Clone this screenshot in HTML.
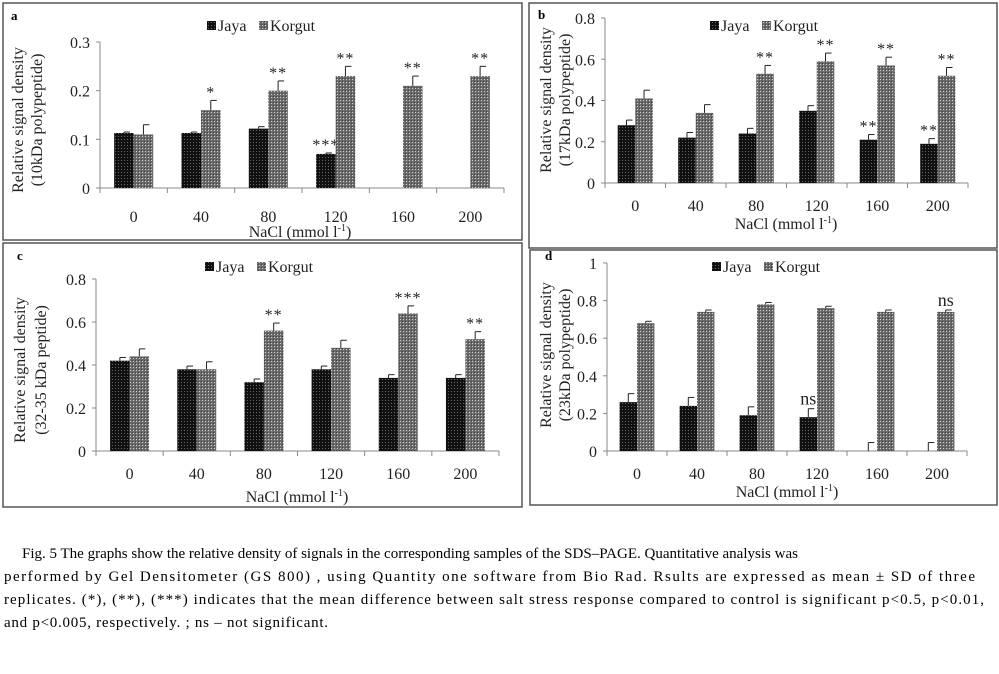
<!DOCTYPE html>
<html><head><meta charset="utf-8"><style>
html,body{margin:0;padding:0;background:#fff;}
svg{display:block;font-family:"Liberation Serif",serif;}
</style></head><body>
<svg id="fig" width="999" height="674" viewBox="0 0 999 674">
<defs>
<pattern id="pj" width="3" height="3" patternUnits="userSpaceOnUse"><rect width="3" height="3" fill="#111"/><rect x="1" y="1" width="1" height="1" fill="#666"/></pattern>
<pattern id="pk" width="3" height="3" patternUnits="userSpaceOnUse"><rect width="3" height="3" fill="#6a6a6a"/><rect x="1" y="1" width="1" height="1" fill="#d0d0d0"/><rect x="0" y="0" width="1" height="1" fill="#444"/></pattern>
</defs>
<text x="22" y="558" font-size="15" textLength="776" lengthAdjust="spacing">Fig. 5 The graphs show the relative  density of signals in the corresponding samples of the SDS–PAGE. Quantitative analysis was</text>
<text x="4" y="581" font-size="15" textLength="971" lengthAdjust="spacing">performed by Gel  Densitometer  (GS  800) , using Quantity one software from Bio Rad. Rsults are expressed as mean ± SD of three</text>
<text x="4" y="604" font-size="15" textLength="980" lengthAdjust="spacing">replicates. (*), (**), (***)  indicates that the mean difference between salt stress response compared to control is significant  p&lt;0.5, p&lt;0.01,</text>
<text x="4" y="627" font-size="15" textLength="324" lengthAdjust="spacing">and p&lt;0.005,  respectively.  ; ns – not significant.</text>
</svg>
<script>
const categories = ["0","40","80","120","160","200"];
const aJaya = [0.113,0.113,0.122,0.07,0,0];
const aJayaErr = [0.002,0.002,0.004,0.002,0,0];
const aKorgut = [0.11,0.16,0.2,0.23,0.21,0.23];
const aKorgutErr = [0.02,0.02,0.02,0.02,0.02,0.02];
const aJayaSig = ["","","","***","",""];
const aKorgutSig = ["","*","**","**","**","**"];
const aTicks = [0,0.1,0.2,0.3];
const bJaya = [0.28,0.22,0.24,0.35,0.21,0.19];
const bJayaErr = [0.025,0.025,0.025,0.025,0.025,0.025];
const bKorgut = [0.41,0.34,0.53,0.59,0.57,0.52];
const bKorgutErr = [0.04,0.04,0.04,0.04,0.04,0.04];
const bJayaSig = ["","","","","**","**"];
const bKorgutSig = ["","","**","**","**","**"];
const bTicks = [0,0.2,0.4,0.6,0.8];
const cJaya = [0.42,0.38,0.32,0.38,0.34,0.34];
const cJayaErr = [0.015,0.015,0.015,0.015,0.015,0.015];
const cKorgut = [0.44,0.38,0.56,0.48,0.64,0.52];
const cKorgutErr = [0.035,0.035,0.035,0.035,0.035,0.035];
const cJayaSig = ["","","","","",""];
const cKorgutSig = ["","","**","","***","**"];
const cTicks = [0,0.2,0.4,0.6,0.8];
const dJaya = [0.26,0.24,0.19,0.18,0,0];
const dJayaErr = [0.045,0.045,0.045,0.045,0.045,0.045];
const dKorgut = [0.68,0.74,0.78,0.76,0.74,0.74];
const dKorgutErr = [0.01,0.01,0.01,0.01,0.01,0.01];
const dJayaSig = ["","","","ns","",""];
const dKorgutSig = ["","","","","","ns"];
const dTicks = [0,0.2,0.4,0.6,0.8,1];

const svg = document.getElementById('fig');
const NS = 'http://www.w3.org/2000/svg';
function mk(tag, attrs, parent){const e=document.createElementNS(NS,tag);for(const k in attrs)e.setAttribute(k,attrs[k]);(parent||svg).appendChild(e);return e;}

const panels = [
 {id:'a',box:[3,3,519,237],x0:100,x1:504,y0:188,yT:42,max:0.3,ticks:aTicks,dec:1,j:aJaya,je:aJayaErr,k:aKorgut,ke:aKorgutErr,js:aJayaSig,ks:aKorgutSig,
  tickY:222,titleY:237,titleX:300,leg:[207,26],letter:[11,20],yt:[17,36,120],t2:'(10kDa polypeptide)'},
 {id:'b',box:[529,3,468,245],x0:605,x1:968,y0:183,yT:18,max:0.8,ticks:bTicks,dec:1,j:bJaya,je:bJayaErr,k:bKorgut,ke:bKorgutErr,js:bJayaSig,ks:bKorgutSig,
  tickY:211,titleY:229,titleX:786,leg:[710,26],letter:[538,19],yt:[545,564,100],t2:'(17kDa polypeptide)'},
 {id:'c',box:[3,243,519,264],x0:96,x1:499,y0:451,yT:279,max:0.8,ticks:cTicks,dec:1,j:cJaya,je:cJayaErr,k:cKorgut,ke:cKorgutErr,js:cJayaSig,ks:cKorgutSig,
  tickY:479,titleY:502,titleX:297,leg:[205,267],letter:[17,260],yt:[19,40,370],t2:'(32-35 kDa peptide)'},
 {id:'d',box:[530,250,467,255],x0:607,x1:967,y0:451,yT:263,max:1,ticks:dTicks,dec:-1,j:dJaya,je:dJayaErr,k:dKorgut,ke:dKorgutErr,js:dJayaSig,ks:dKorgutSig,
  tickY:479,titleY:497,titleX:787,leg:[712,267],letter:[545,260],yt:[545,564,355],t2:'(23kDa polypeptide)'}
];

function fmt(v,dec){ if(v===0) return '0'; if(dec<0) return (Math.round(v*10)/10===1)?'1':v.toFixed(1); return v.toFixed(1);}

panels.forEach(p=>{
 const g = mk('g',{});
 
 
 const box = mk('rect',{x:p.box[0],y:p.box[1],width:p.box[2],height:p.box[3],fill:'none',stroke:'#555','stroke-width':1.5},g);
 
 
 const lt = mk('text',{x:p.letter[0],y:p.letter[1],'font-size':13,'font-weight':'bold'},g);
 lt.textContent=p.id;
 
 
 const ys = v => p.y0 - (v/p.max)*(p.y0-p.yT);
 const n = categories.length, cw=(p.x1-p.x0)/n;
 const xc = i => p.x0 + cw*(i+0.5);
 const bw = cw*0.29;
 const ya = mk('line',{x1:p.x0,y1:p.yT,x2:p.x0,y2:p.y0,stroke:'#888'},g);
 
 
 const xa = mk('line',{x1:p.x0,y1:p.y0,x2:p.x1,y2:p.y0,stroke:'#888'},g);
 
 
 p.ticks.forEach(t=>{
  mk('line',{x1:p.x0-4,y1:ys(t),x2:p.x0,y2:ys(t),stroke:'#888'},g);
  const tl = mk('text',{x:p.x0-10,y:ys(t)+6,'font-size':16,'text-anchor':'end',fill:'#222'},g);
  tl.textContent=fmt(t,p.dec);
  
  
 });
 for(let i=0;i<=n;i++) mk('line',{x1:p.x0+cw*i,y1:p.y0,x2:p.x0+cw*i,y2:p.y0+5,stroke:'#888'},g);
 categories.forEach((c,i)=>{
  const tl = mk('text',{x:xc(i),y:p.tickY,'font-size':16,'text-anchor':'middle',fill:'#222'},g);
  tl.textContent=c;
  
  
 });
 const xt = mk('text',{x:p.titleX,y:p.titleY,'font-size':16,'text-anchor':'middle',fill:'#222'},g);
 xt.innerHTML='NaCl (mmol l<tspan dy="-6" font-size="10">-1</tspan><tspan dy="6">)</tspan>';
 
 
 const y1 = mk('text',{'font-size':16,'text-anchor':'middle',fill:'#222',transform:`translate(${p.yt[0]+6},${p.yt[2]}) rotate(-90)`},g);
 y1.textContent='Relative signal density';
 
 
 const y2 = mk('text',{'font-size':16,'text-anchor':'middle',fill:'#222',transform:`translate(${p.yt[1]+6},${p.yt[2]}) rotate(-90)`},g);
 y2.textContent=p.t2;
 
 
 const l1 = mk('rect',{x:p.leg[0],y:p.leg[1]-5,width:9,height:9,fill:'url(#pj)'},g);
 
 
 const l1t = mk('text',{x:p.leg[0]+11,y:p.leg[1]+5,'font-size':16,fill:'#222'},g);
 l1t.textContent='Jaya';
 
 
 const l2 = mk('rect',{x:p.leg[0]+52,y:p.leg[1]-5,width:9,height:9,fill:'url(#pk)'},g);
 
 
 const l2t = mk('text',{x:p.leg[0]+63,y:p.leg[1]+5,'font-size':16,fill:'#222'},g);
 l2t.textContent='Korgut';
 
 
 [[p.j,p.je,p.js,'url(#pj)',-1,'jaya'],[p.k,p.ke,p.ks,'url(#pk)',0,'korgut']].forEach(([vals,errs,sig,fill,off,nm])=>{
  vals.forEach((v,i)=>{
   const x = xc(i)+off*bw;
   if(v>0){
    const r = mk('rect',{x:x,y:ys(v),width:bw,height:p.y0-ys(v),fill:fill},g);
    
    
   }
   const e = errs[i];
   if(e>0){
    const cx = x+bw/2;
    mk('line',{x1:cx,y1:ys(v),x2:cx,y2:ys(v+e),stroke:'#222'},g);
    mk('line',{x1:cx,y1:ys(v+e),x2:cx+6,y2:ys(v+e),stroke:'#222'},g);
   }
   if(sig[i]){
    const isNs = sig[i]==='ns';
    const s = mk('text',{x:x+bw/2,y:ys(v+e)-(isNs?4:3),'font-size':isNs?18:16,'text-anchor':'middle',fill:'#222','letter-spacing':isNs?0:1},g);
    s.textContent=sig[i];
    
    
   }
  });
 });
});
</script>
</body></html>
